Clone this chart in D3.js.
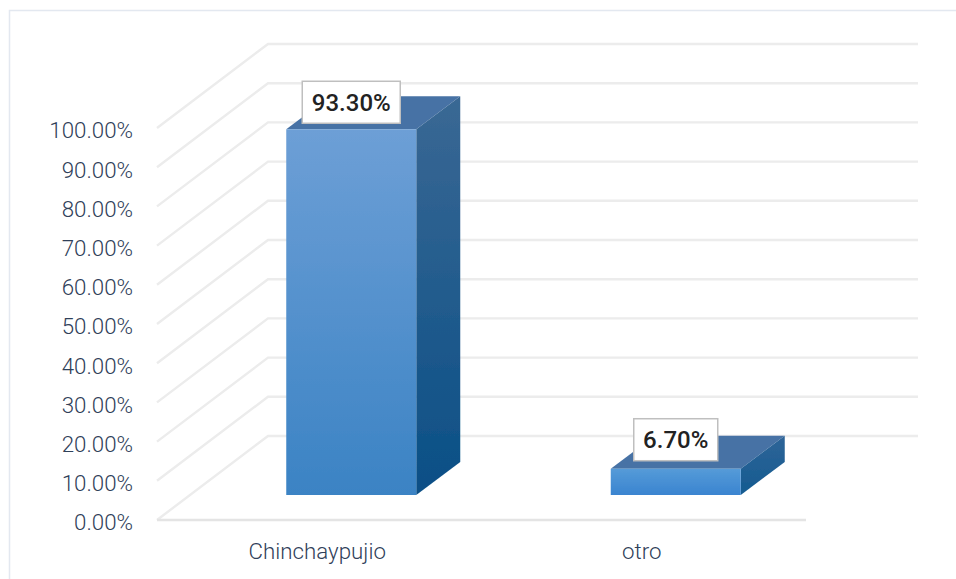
<!DOCTYPE html>
<html><head><meta charset="utf-8"><style>html,body{margin:0;padding:0;background:#fff}svg{display:block}</style></head><body>
<script src="https://cdn.jsdelivr.net/npm/d3@7/dist/d3.min.js"></script>
<script>
const categories = ["Chinchaypujio", "otro"];
const values = [93.3, 6.7];
const valueLabels = ["93.30%", "6.70%"];
const yTicks = [0,10,20,30,40,50,60,70,80,90,100];

const W=956,H=579;
const svg=d3.select("body").append("svg").attr("width",W).attr("height",H);
const defs=svg.append("defs");
function grad(id,a,b){const g=defs.append("linearGradient").attr("id",id).attr("x1",0).attr("x2",0).attr("y1",0).attr("y2",1);
 g.append("stop").attr("offset",0).attr("stop-color",a);g.append("stop").attr("offset",1).attr("stop-color",b);}
grad("front","#6d9fd6","#3b83c4");
grad("side","#3a6894","#0a4f86");
grad("front2","#559bd8","#3a84d0");
grad("side2","#2f6598","#145a90");
defs.append("filter").attr("id","soft").attr("filterUnits","userSpaceOnUse").attr("x",0).attr("y",0).attr("width",W).attr("height",H)
  .append("feGaussianBlur").attr("stdDeviation",0.7);
defs.append("filter").attr("id","softer").attr("filterUnits","userSpaceOnUse").attr("x",0).attr("y",0).attr("width",W).attr("height",H)
  .append("feGaussianBlur").attr("stdDeviation",0.35);

svg.append("path").attr("d","M9.5,579V10.5H956").attr("fill","none").attr("stroke","#e3e8f0").attr("stroke-width",1.5);

const y=d3.scaleLinear().domain([0,100]).range([520,128]);
const x=d3.scaleBand().domain(categories).range([157,806]);
const wallDx=111, wallDy=-84;
const grid=svg.append("g").attr("fill","none").attr("stroke","#ececec").attr("stroke-width",2.4).attr("filter","url(#soft)");
yTicks.forEach(t=>{
  grid.append("path").attr("d",`M${x.range()[0]},${y(t)}L${x.range()[0]+wallDx},${y(t)+wallDy}H${x.range()[1]+wallDx+1}`);
});
grid.append("path").attr("d",`M${x.range()[0]},${y(0)}H${x.range()[1]}`).attr("stroke","#e4e4e4").attr("stroke-width",2.6);

const axisFont="Roboto, sans-serif";
const yAxis=d3.axisLeft(y).tickValues(yTicks).tickSize(0).tickPadding(24).tickFormat(d=>d3.format(".2f")(d)+"%");
const ya=svg.append("g").attr("transform",`translate(157,1)`).call(yAxis);
ya.select(".domain").remove();
ya.selectAll("text").attr("font-family",axisFont).attr("font-size",22.3).attr("fill","#2f4059").attr("dy","0.4em").attr("font-weight",300);
const xAxis=d3.axisBottom(x).tickSize(0).tickPadding(23);
const xa=svg.append("g").attr("transform",`translate(-2,520)`).call(xAxis);
xa.select(".domain").remove();
xa.selectAll("text").attr("font-family",axisFont).attr("font-size",22.3).attr("fill","#2f4059").attr("font-weight",300);

// 3D bars
const offX=32, offY=-25, depX=44, depY=-33, barW=130;
const h=v=>y(0)-y(v);
const gb=svg.selectAll("g.bar").data(categories).enter().append("g").attr("class","bar");
gb.each(function(c,i){
  const g=d3.select(this), v=values[i];
  const cx=x(c)+x.bandwidth()/2+offX, x0=cx-barW/2, x1=cx+barW/2, b=y(0)+offY, t=b-h(v);
  const s=g.append("g").attr("filter","url(#softer)");
  s.append("path").attr("d",`M${x0},${t}L${x0+depX},${t+depY}H${x1+depX}L${x1},${t}Z`).attr("fill","#4672a5");
  s.append("path").attr("d",`M${x1},${t}L${x1+depX},${t+depY}V${b+depY}L${x1},${b}Z`).attr("fill",`url(#${i?"side2":"side"})`);
  s.append("rect").attr("x",x0).attr("y",t).attr("width",barW).attr("height",h(v)).attr("fill",`url(#${i?"front2":"front"})`);
  const bw=i?84:98, bh=42;
  const by=(t+depY)+(i?-17:-15);
  g.append("rect").attr("x",cx-bw/2).attr("y",by).attr("width",bw).attr("height",bh).attr("fill","#fff").attr("stroke","#bfbfbf").attr("stroke-width",1.5);
  g.append("text").attr("x",cx).attr("y",by+bh/2).attr("dy","0.36em").attr("text-anchor","middle")
   .attr("font-family",axisFont).attr("font-size",24).attr("font-weight",500).attr("fill","#222").text(valueLabels[i]);
});
</script></body></html>
